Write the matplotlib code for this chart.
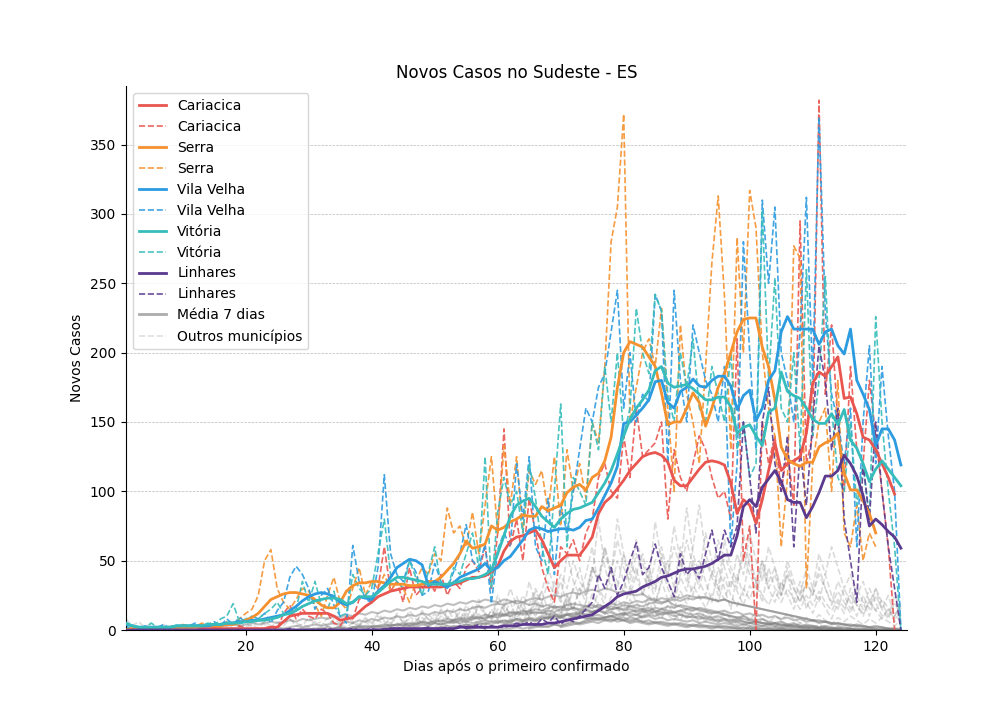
import numpy as np
import matplotlib.pyplot as plt

# casos diarios (tracejado) e media 7 dias (solida), indice 0 = dia 1
ca_daily = [0]*12 + [1, 0, 2, 0, 1, 0, 3, 1,
            0, 0, 1, 3, 0, 12, 18, 8, 15, 10,
            8, 15, 12, 5, 3, 10, 8, 22, 25, 20,
            30, 60, 28, 35, 20, 45, 25, 30, 35, 28,
            40, 25, 35, 30, 45, 50, 42, 60, 30, 70,
            145, 60, 80, 50, 95, 70, 45, 30, 20, 60,
            55, 65, 50, 70, 80, 110, 120, 100, 95, 140,
            110, 160, 125, 130, 135, 150, 80, 130, 110, 100,
            120, 140, 130, 110, 95, 100, 80, 210, 50, 75,
            0, 150, 120, 140, 100, 130, 90, 295, 120, 140,
            382, 170, 220, 150, 100, 190, 130, 120, 180, 140,
            100, 60, 0]
ca_avg = [0]*12 + [1, 1, 1, 1, 1, 1, 1, 1,
          1, 1, 1, 2, 2, 6, 10, 11, 12, 12,
          12, 12, 12, 10, 7, 8, 9, 13, 17, 20,
          24, 26, 28, 29, 30, 31, 31, 31, 31, 31,
          31, 32, 33, 34, 36, 38, 38, 39, 42, 46,
          57, 64, 67, 68, 70, 72, 65, 55, 45, 50,
          54, 54, 54, 60, 67, 84, 92, 96, 102, 108,
          115, 120, 125, 127, 128, 126, 121, 108, 104, 104,
          110, 116, 121, 122, 121, 119, 106, 84, 94, 90,
          77, 94, 115, 135, 115, 120, 122, 125, 142, 178,
          186, 183, 190, 197, 167, 168, 156, 139, 137, 130,
          120, 110, 98]

se_daily = [0, 2, 0, 1, 0, 3, 0, 2, 1, 4,
            3, 2, 5, 3, 4, 2, 6, 4, 8, 12,
            15, 25, 50, 58, 30, 20, 15, 22, 30, 28,
            18, 10, 25, 38, 20, 15, 30, 45, 25, 35,
            30, 40, 28, 35, 30, 20, 35, 45, 40, 55,
            50, 88, 70, 75, 60, 85, 55, 90, 125, 70,
            133, 90, 125, 70, 115, 105, 115, 85, 125, 75,
            130, 100, 120, 95, 150, 135, 190, 280, 305, 372,
            150, 175, 200, 210, 190, 232, 160, 100, 220, 170,
            150, 120, 190, 265, 313, 240, 130, 283, 200, 317,
            290, 200, 160, 140, 60, 110, 277, 268, 30, 120,
            150, 160, 100, 180, 70, 60, 90, 50, 70, 60]
se_avg = [0, 1, 1, 1, 1, 1, 1, 2, 2, 2,
          2, 2, 3, 3, 3, 3, 4, 4, 5, 7,
          9, 12, 17, 22, 24, 26, 27, 27, 26, 25,
          22, 18, 16, 16, 20, 28, 32, 34, 34, 35,
          35, 34, 33, 33, 33, 32, 32, 33, 35, 35,
          38, 43, 48, 55, 64, 59, 60, 62, 75, 72,
          74, 78, 80, 83, 82, 82, 89, 86, 88, 90,
          99, 103, 105, 101, 110, 113, 122, 139, 175, 200,
          208, 206, 204, 197, 190, 171, 148, 150, 150, 160,
          171, 164, 147, 160, 175, 185, 200, 215, 224, 225,
          225, 204, 190, 166, 132, 123, 120, 118, 121, 121,
          132, 135, 137, 142, 113, 101, 101, 93, 84, 70]

vv_daily = [5, 2, 0, 3, 1, 2, 4, 1, 3, 2,
            3, 5, 2, 4, 6, 3, 8, 4, 9, 6,
            10, 8, 12, 5, 14, 20, 38, 46, 40, 30,
            15, 25, 30, 18, 10, 5, 61, 35, 22, 20,
            45, 112, 55, 40, 35, 50, 42, 25, 28, 48,
            35, 30, 42, 55, 76, 50, 45, 62, 19, 58,
            70, 60, 120, 80, 125, 60, 50, 95, 40, 90,
            70, 100, 130, 160, 150, 175, 185, 215, 245, 160,
            200, 150, 170, 165, 242, 230, 120, 245, 180, 150,
            220, 200, 180, 170, 150, 190, 60, 120, 280, 200,
            130, 310, 250, 305, 200, 180, 150, 215, 312, 180,
            370, 230, 170, 150, 120, 160, 60, 150, 205, 120,
            190, 140, 100, 0]
vv_avg = [4, 3, 2, 2, 2, 2, 2, 2, 3, 3,
          3, 3, 3, 3, 4, 4, 5, 5, 6, 6,
          7, 7, 8, 9, 10, 11, 14, 17, 21, 24,
          26, 27, 26, 24, 20, 18, 20, 24, 23, 22,
          28, 32, 38, 45, 48, 51, 50, 47, 32, 35,
          33, 31, 34, 38, 40, 42, 44, 48, 43, 45,
          50, 53, 59, 65, 72, 74, 73, 71, 72, 73,
          73, 72, 74, 79, 80, 88, 97, 106, 118, 149,
          150, 155, 160, 166, 179, 180, 164, 160, 172, 175,
          181, 176, 175, 180, 183, 183, 176, 159, 169, 173,
          151, 160, 180, 187, 215, 226, 217, 217, 217, 217,
          206, 215, 217, 205, 199, 217, 180, 170, 159, 133,
          145, 145, 137, 119]

vi_daily = [3, 0, 2, 1, 5, 2, 0, 3, 1, 2,
            2, 4, 3, 5, 3, 8, 10, 19, 6, 8,
            10, 8, 12, 15, 20, 12, 10, 15, 35, 20,
            35, 18, 15, 28, 10, 12, 40, 30, 25, 30,
            55, 80, 40, 35, 30, 50, 38, 25, 42, 60,
            32, 30, 45, 40, 55, 70, 45, 125, 30, 85,
            110, 90, 100, 70, 120, 95, 60, 40, 100, 163,
            60, 110, 100, 90, 150, 130, 190, 150, 200, 140,
            160, 232, 200, 185, 242, 230, 170, 150, 200, 175,
            210, 160, 150, 190, 170, 150, 200, 130, 150, 110,
            120, 303, 180, 254, 160, 150, 200, 130, 260, 140,
            180, 255, 160, 110, 100, 150, 90, 120, 80, 226,
            150, 100, 60, 0]
vi_avg = [5, 3, 2, 2, 2, 2, 2, 2, 3, 3,
          3, 3, 3, 4, 4, 4, 5, 5, 5, 6,
          6, 7, 7, 8, 9, 11, 12, 14, 17, 19,
          21, 22, 23, 23, 22, 19, 20, 24, 24, 24,
          27, 31, 35, 38, 38, 37, 36, 35, 33, 33,
          33, 33, 34, 35, 37, 37, 38, 40, 43, 55,
          68, 82, 90, 93, 95, 89, 82, 78, 74, 80,
          84, 87, 88, 90, 92, 99, 106, 115, 127, 140,
          152, 160, 166, 173, 187, 190, 178, 175, 176, 177,
          174, 170, 166, 166, 168, 168, 161, 142, 146, 148,
          140, 133, 157, 160, 186, 172, 169, 167, 160, 152,
          149, 149, 156, 148, 159, 137, 131, 120, 107, 116,
          122, 116, 110, 104]

li_daily = [0]*26 + [1, 0, 0, 0,
            0, 0, 1, 0, 0, 0, 1, 0, 0, 1,
            0, 1, 0, 2, 0, 1, 0, 1, 2, 0,
            1, 2, 0, 3, 1, 2, 4, 1, 3, 2,
            2, 3, 5, 4, 6, 3, 8, 5, 10, 4,
            8, 6, 10, 15, 20, 40, 30, 45, 25, 35,
            50, 63, 40, 45, 62, 45, 35, 24, 55, 40,
            45, 37, 55, 72, 50, 72, 60, 75, 150, 110,
            70, 150, 175, 120, 100, 140, 60, 130, 90, 150,
            205, 180, 130, 160, 80, 50, 20, 120, 80, 150,
            100, 60, 30, 0]
li_avg = [0]*42 + [1, 1, 1, 1, 1, 1, 1, 1,
          1, 1, 1, 2, 2, 2, 2, 2, 2, 2,
          3, 3, 3, 4, 4, 4, 4, 5, 5, 6,
          7, 8, 9, 10, 11, 14, 17, 20, 24, 26,
          27, 28, 31, 33, 35, 38, 39, 41, 43, 44,
          44, 45, 46, 48, 51, 54, 54, 68, 89, 94,
          89, 103, 109, 115, 107, 94, 92, 92, 81, 89,
          99, 111, 111, 115, 126, 120, 111, 97, 75, 80,
          76, 71, 67, 59]

cidades = ['Cariacica', 'Serra', 'Vila Velha', 'Vitória', 'Linhares']
diarios = [ca_daily, se_daily, vv_daily, vi_daily, li_daily]
medias = [ca_avg, se_avg, vv_avg, vi_avg, li_avg]
cores = ['#E9554F', '#F5912E', '#2C9BE0', '#36BDBB', '#5B3A8E']

# outros municipios: (dia inicial, casos diarios)
outros_daily = [
    (10, [1, 0, 2, 1, 3, 0, 2, 5, 1, 3, 2, 4, 1, 6, 3, 2, 5, 8, 3, 4, 2, 6, 3, 9, 4, 2, 7, 5, 3, 8,
          4, 10, 6, 3, 12, 5, 8, 4, 14, 7, 5, 10, 8, 15, 6, 12, 9, 18, 10, 7, 15, 11, 20, 9, 14, 12,
          22, 16, 10, 18, 13, 25, 15, 11, 20, 14, 28, 18, 12, 22, 16, 30, 20, 14, 25, 17, 35, 22, 15,
          28, 19, 32, 24, 16, 26, 20, 38, 25, 17, 30, 22, 35, 25, 18, 28, 20, 30, 22, 15, 25, 18, 28,
          20, 14, 22, 16, 25, 18, 12, 20, 14, 22, 16, 10, 18]),
    (1, [8, 3, 6, 2, 5, 1, 4, 2, 3, 1, 2, 4, 1, 3, 2, 5, 3, 6, 2, 4, 3, 7, 4, 2, 6, 3, 8, 5, 3, 9,
         4, 6, 3, 8, 5, 10, 6, 4, 9, 5, 12, 7, 5, 10, 6, 14, 8, 6, 11, 7, 15, 9, 6, 13, 8, 17, 10, 7,
         14, 9, 18, 11, 8, 15, 10, 20, 12, 9, 16, 11, 22, 14, 10, 18, 12, 20, 13, 9, 16, 11, 18, 12,
         8, 14, 10, 16, 11, 7, 13, 9, 15, 10, 6, 12, 8, 14, 9, 6, 11, 7, 13, 8, 5, 10, 7, 12, 8, 5,
         9, 6, 11, 7, 4, 9, 6, 10, 7, 4, 8, 5, 9, 6, 3, 7]),
    (45, [3, 6, 2, 9, 5, 12, 4, 15, 8, 6, 18, 10, 22, 12, 8, 25, 15, 30, 18, 12, 35, 20, 28, 45, 30,
          20, 55, 35, 25, 40, 60, 30, 22, 45, 35, 28, 50, 38, 25, 45, 30, 55, 35, 25, 40, 65, 45, 30,
          50, 38, 25, 55, 40, 30, 70, 45, 35, 50, 30, 40, 25, 45, 30, 20, 35, 25, 40, 30, 18, 28, 20,
          12, 25, 15, 30, 20, 10, 15, 8, 12]),
    (50, [2, 5, 3, 8, 4, 10, 6, 12, 5, 15, 8, 20, 10, 14, 25, 18, 30, 20, 35, 25, 40, 30, 50, 35, 28,
          45, 38, 60, 42, 30, 55, 40, 65, 48, 35, 78, 50, 40, 60, 45, 88, 55, 40, 70, 50, 30, 65, 45,
          35, 55, 40, 30, 50, 35, 45, 25, 40, 30, 20, 35, 25, 45, 30, 20, 35, 25, 15, 30, 20, 10, 25,
          15, 8, 20, 10]),
    (55, [4, 2, 8, 3, 10, 5, 14, 7, 12, 20, 9, 16, 28, 14, 22, 35, 18, 30, 45, 25, 38, 80, 45, 30, 50,
          35, 25, 40, 55, 35, 28, 45, 30, 20, 38, 28, 50, 35, 25, 42, 30, 22, 36, 28, 18, 32, 24, 45,
          30, 20, 35, 25, 15, 28, 20, 12, 24, 16, 8, 20, 12, 30, 18, 10, 22, 14, 8, 15, 6, 10]),
    (60, [5, 8, 3, 12, 6, 15, 10, 20, 8, 18, 12, 25, 15, 30, 20, 45, 35, 60, 40, 80, 55, 30, 45, 25,
          40, 20, 35, 50, 30, 60, 40, 25, 50, 35, 20, 45, 30, 15, 40, 25, 55, 35, 20, 45, 30, 25, 40,
          20, 35, 15, 30, 20, 40, 25, 15, 30, 20, 10, 25, 15, 30, 20, 10, 25, 15]),
    (70, [10, 20, 15, 30, 25, 45, 35, 55, 40, 65, 45, 35, 55, 40, 30, 50, 60, 40, 75, 50, 35, 60, 90,
          55, 40, 65, 45, 30, 55, 40, 70, 50, 35, 60, 45, 30, 50, 35, 25, 45, 30, 55, 40, 60, 45, 30,
          40, 25, 35, 20, 30, 15, 25, 10, 20]),
    (30, [0, 2, 1, 3, 1, 4, 2, 5, 3, 6, 2, 7, 4, 9, 5, 3, 10, 6, 12, 8, 5, 14, 9, 6, 16, 10, 7, 18, 12,
          8, 20, 14, 9, 24, 15, 10, 28, 18, 12, 35, 22, 14, 30, 20, 13, 26, 17, 11, 24, 15, 10, 22, 14,
          9, 20, 12, 8, 18, 11, 7, 16, 10, 6, 14, 9, 5, 12, 8, 4, 10, 6, 3, 8, 5, 2, 6, 4, 2, 5, 3, 1,
          4, 2, 1, 3, 2, 1, 2, 1, 0, 1, 0, 1, 0, 0]),
]

# outros municipios: (dia inicial, media 7 dias)
outros_media = [
    (5, [0, 1, 0, 1, 1, 2, 1, 2, 2, 3, 2, 3, 3, 4, 3, 4, 5, 4, 5, 6, 5, 6, 7, 6, 8, 7, 8, 9, 8, 10, 9,
         11, 10, 12, 11, 13, 12, 14, 13, 15, 14, 16, 15, 17, 16, 18, 17, 19, 18, 20, 19, 21, 20, 22,
         21, 20, 22, 21, 19, 20, 18, 19, 17, 18, 16, 17, 15, 16, 14, 15, 13, 14, 12, 13, 11, 12, 10,
         11, 9, 10, 8, 9, 7, 8, 7, 6, 7, 5, 6, 5, 4, 5, 4, 3, 4, 3, 2, 3, 2, 2, 1, 2, 1, 1, 1, 0, 1,
         0, 1, 0, 0, 0, 0, 0, 0]),
    (20, [0, 1, 0, 1, 1, 2, 1, 2, 3, 2, 3, 4, 3, 4, 5, 4, 6, 5, 7, 6, 8, 7, 9, 8, 10, 9, 11, 10, 12,
          11, 13, 12, 14, 13, 15, 14, 16, 17, 16, 18, 19, 18, 20, 21, 20, 22, 23, 22, 24, 25, 24, 26,
          27, 26, 28, 29, 28, 30, 29, 27, 28, 26, 25, 26, 23, 22, 20, 21, 18, 17, 15, 16, 14, 13, 12,
          13, 11, 10, 9, 10, 8, 7, 8, 6, 5, 6, 4, 5, 3, 4, 3, 2, 3, 2, 1, 2, 1, 1, 0, 1, 0]),
    (30, [0, 1, 1, 0, 1, 2, 1, 2, 2, 3, 2, 3, 4, 3, 4, 5, 4, 5, 6, 5, 6, 7, 6, 7, 8, 7, 9, 8, 9, 10, 9,
          11, 10, 12, 11, 12, 13, 12, 14, 13, 15, 14, 16, 15, 17, 16, 18, 17, 19, 18, 20, 19, 21, 20,
          22, 21, 23, 22, 24, 23, 25, 24, 23, 24, 22, 21, 22, 20, 19, 18, 17, 16, 15, 14, 13, 12, 11,
          10, 9, 8, 7, 6, 6, 5, 4, 4, 3, 3, 2, 2, 1, 1, 1, 0, 0]),
    (35, [1, 0, 1, 2, 1, 2, 3, 2, 3, 4, 3, 5, 4, 6, 5, 7, 6, 8, 7, 9, 8, 10, 9, 11, 10, 12, 11, 13, 12,
          14, 13, 12, 13, 11, 12, 10, 11, 9, 10, 8, 9, 8, 7, 8, 6, 7, 5, 6, 5, 4, 5, 4, 3, 4, 3, 2, 3,
          2, 2, 1, 2, 1, 1, 1, 0, 1, 0, 0, 1, 0, 0, 0, 0, 0, 0, 0, 0, 0, 0, 0, 0, 0, 0, 0, 0, 0, 0, 0,
          0, 0]),
    (40, [0, 1, 1, 2, 1, 2, 3, 2, 4, 3, 5, 4, 6, 5, 7, 6, 8, 9, 8, 10, 11, 10, 12, 13, 12, 14, 15, 14,
          16, 17, 16, 18, 19, 18, 17, 18, 16, 17, 15, 16, 14, 15, 13, 14, 12, 13, 11, 12, 10, 11, 9,
          10, 8, 9, 8, 7, 8, 6, 7, 6, 5, 6, 5, 4, 5, 4, 3, 4, 3, 2, 3, 2, 2, 1, 2, 1, 1, 0, 1, 0, 0,
          0, 0, 0, 0]),
    (45, [0, 1, 0, 1, 2, 1, 2, 3, 2, 3, 4, 3, 4, 5, 4, 6, 5, 6, 7, 6, 8, 7, 9, 8, 10, 9, 11, 10, 12,
          11, 13, 14, 13, 15, 16, 15, 17, 18, 17, 19, 20, 19, 21, 22, 21, 23, 22, 24, 23, 22, 21, 22,
          20, 19, 18, 17, 16, 15, 14, 13, 12, 11, 10, 9, 8, 7, 7, 6, 5, 5, 4, 4, 3, 3, 2, 2, 2, 1, 1,
          1]),
    (50, [1, 2, 1, 3, 2, 4, 3, 5, 4, 6, 5, 7, 6, 8, 7, 9, 8, 10, 9, 11, 10, 12, 11, 12, 11, 10, 11, 9,
          10, 8, 9, 7, 8, 6, 7, 5, 6, 5, 4, 5, 4, 3, 4, 3, 3, 2, 3, 2, 2, 1, 2, 1, 1, 1, 0, 1, 0, 0, 0,
          0, 0, 0, 0, 0, 0, 0, 0, 0, 0, 0, 0, 0, 0, 0, 0]),
    (55, [0, 1, 2, 1, 3, 2, 4, 5, 4, 6, 7, 6, 8, 9, 10, 9, 11, 12, 13, 14, 13, 15, 16, 17, 16, 18, 17,
          16, 15, 16, 14, 13, 12, 13, 11, 10, 9, 10, 8, 7, 6, 7, 5, 6, 4, 5, 4, 3, 4, 3, 2, 3, 2, 2, 1,
          2, 1, 1, 0, 1, 0, 0, 0, 0, 0, 0, 0, 0, 0, 0]),
    (60, [0, 1, 1, 2, 1, 2, 3, 2, 3, 4, 3, 4, 5, 4, 5, 6, 5, 7, 6, 8, 7, 9, 8, 10, 11, 10, 12, 13, 12,
          14, 15, 14, 16, 15, 14, 13, 14, 12, 13, 11, 12, 10, 11, 9, 10, 8, 9, 7, 8, 6, 7, 5, 6, 4, 5,
          4, 3, 4, 3, 2, 3, 2, 1, 1, 0]),
    (25, [0, 0, 1, 0, 1, 1, 0, 1, 2, 1, 2, 1, 2, 3, 2, 3, 2, 3, 4, 3, 4, 3, 4, 5, 4, 5, 4, 5, 6, 5, 6,
          5, 6, 7, 6, 7, 6, 7, 8, 7, 8, 7, 8, 9, 8, 9, 8, 9, 10, 9, 8, 9, 8, 7, 8, 7, 6, 7, 6, 5, 6, 5,
          4, 5, 4, 3, 4, 3, 3, 2, 3, 2, 2, 1, 2, 1, 1, 1, 0, 1, 0, 1, 0, 0, 0, 0, 0, 0, 0, 0, 0, 0, 0,
          0, 0, 0, 0, 0, 0, 0]),
    (65, [1, 2, 3, 2, 4, 3, 5, 6, 5, 7, 8, 7, 9, 10, 9, 11, 12, 11, 13, 14, 13, 15, 14, 13, 14, 12, 11,
          12, 10, 9, 10, 8, 7, 8, 6, 5, 6, 5, 4, 5, 3, 4, 3, 2, 3, 2, 1, 2, 1, 1, 0, 1, 0, 0, 0, 0, 0,
          0, 0, 0]),
    (70, [2, 3, 4, 5, 6, 7, 8, 9, 10, 11, 12, 13, 14, 15, 14, 16, 15, 17, 16, 18, 17, 16, 15, 14, 13,
          12, 11, 10, 9, 8, 7, 6, 5, 5, 4, 4, 3, 3, 2, 2, 1, 1, 1, 0, 0, 0, 0, 0, 0, 0, 0, 0, 0, 0,
          0]),
]

fig, ax = plt.subplots(figsize=(10.08, 7.2), dpi=100)
fig.subplots_adjust(left=0.125, right=0.9, top=0.88, bottom=0.125)

for ini, v in outros_daily:
    dias = np.arange(ini, ini + len(v))
    ax.plot(dias, v, color='gray', alpha=0.28, lw=1.2, ls='--', zorder=1)
for ini, v in outros_media:
    dias = np.arange(ini, ini + len(v))
    ax.plot(dias, v, color='gray', alpha=0.5, lw=1.5, zorder=1.5)

handles = []
for nome, d, m, c in zip(cidades, diarios, medias, cores):
    h1, = ax.plot(np.arange(1, len(m) + 1), m, color=c, lw=2, zorder=3, label=nome)
    h2, = ax.plot(np.arange(1, len(d) + 1), d, color=c, lw=1.2, ls='--', alpha=0.9, zorder=2, label=nome)
    handles += [h1, h2]

h_media, = ax.plot([], [], color='gray', alpha=0.65, lw=2, label='Média 7 dias')
h_outros, = ax.plot([], [], color='gray', alpha=0.25, lw=1.2, ls='--', label='Outros municípios')
handles += [h_media, h_outros]

ax.legend(handles=handles, loc='upper left')
ax.set_title('Novos Casos no Sudeste - ES')
ax.set_xlabel('Dias após o primeiro confirmado')
ax.set_ylabel('Novos Casos')
ax.set_xlim(1, 125)
ax.set_ylim(0, 392)
ax.grid(axis='y', ls='--', lw=0.5, color='#bbbbbb')
ax.set_axisbelow(True)
ax.spines['top'].set_visible(False)
ax.spines['right'].set_visible(False)

plt.savefig('out.png')
